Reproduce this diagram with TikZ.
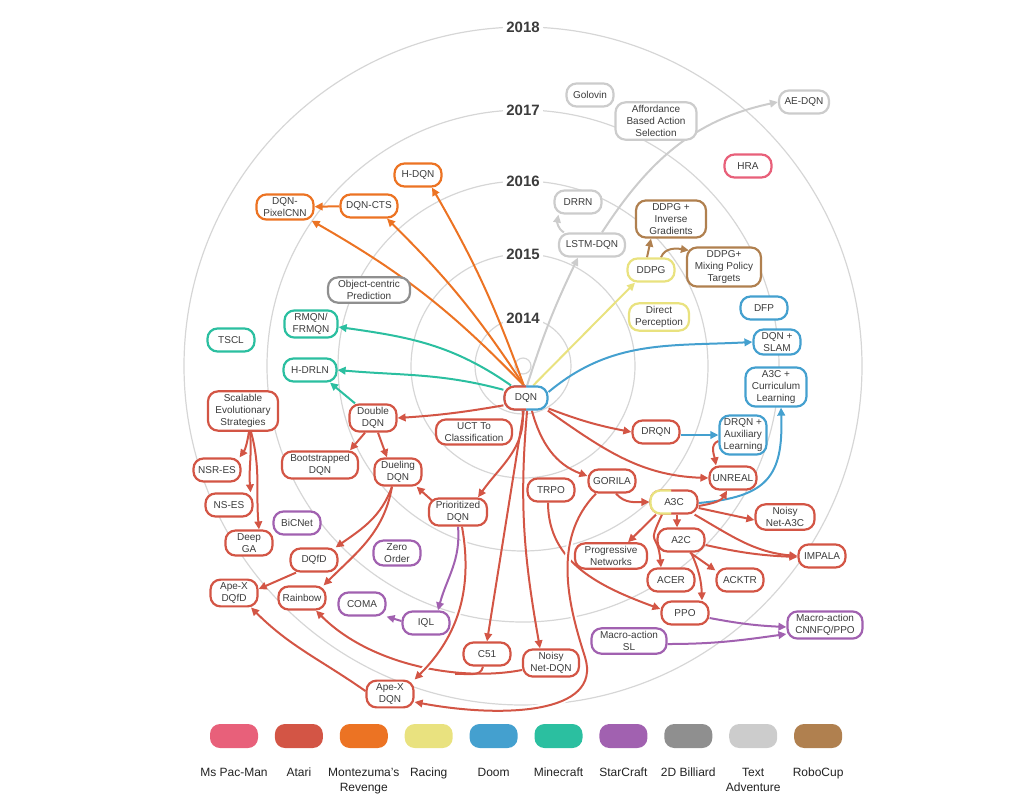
\documentclass[tikz,border=0pt]{standalone}
\usepackage{fontspec}
\setmainfont{Liberation Sans}
\usetikzlibrary{arrows.meta, calc}

\definecolor{pacman}{HTML}{E8607A}
\definecolor{atari}{HTML}{D35545}
\definecolor{monte}{HTML}{EC7323}
\definecolor{racing}{HTML}{E9E27F}
\definecolor{doom}{HTML}{44A0CF}
\definecolor{minecraft}{HTML}{2BBFA0}
\definecolor{starcraft}{HTML}{A161B0}
\definecolor{billiard}{HTML}{8F8F8F}
\definecolor{textadv}{HTML}{CCCCCC}
\definecolor{robocup}{HTML}{B0804F}
\definecolor{ringgray}{HTML}{D6D6D6}
\definecolor{ink}{HTML}{3C3C3C}
\definecolor{legendink}{HTML}{222222}

\pgfdeclarelayer{rings}
\pgfdeclarelayer{links}
\pgfsetlayers{rings,links,main}

\begin{document}
\begin{tikzpicture}[
  x=1pt, y=1pt,
  box/.style    = {draw, fill=white, line width=2.2pt, rounded corners=10pt,
                   minimum width=47pt, minimum height=23pt,
                   inner xsep=3pt, inner ysep=3pt, align=center,
                   text=ink, font=\fontsize{10}{12}\selectfont},
  link/.style   = {line width=2pt, -{Triangle[length=8pt, width=7.5pt]}},
  halo/.style   = {preaction={draw=white, line width=6pt, arrows=-}},
  ring/.style   = {draw=ringgray, line width=1.2pt},
  year/.style   = {fill=white, inner xsep=3pt, inner ysep=1pt, text=ink,
                   font=\fontsize{15}{15}\selectfont\bfseries},
  swatch/.style = {fill=#1, rounded corners=10pt, minimum width=48pt,
                   minimum height=24pt, inner sep=0pt},
  legend/.style = {anchor=north, inner sep=0pt, align=center, text=legendink,
                   font=\fontsize{12}{15}\selectfont},
]
\useasboundingbox (0,0) rectangle (1017,-807);

%── Year rings ────────────────────────────────────────────────────────────────
\coordinate (hub) at (523,-366);
\begin{pgfonlayer}{rings}
  \foreach \r in {8,48,112,185,256,339}
    \draw[ring] (hub) circle[radius=\r pt];
\end{pgfonlayer}
\node[year] (y2018) at (523,-27)  {2018};
\node[year] (y2017) at (523,-110) {2017};
\node[year] (y2016) at (523,-181) {2016};
\node[year] (y2015) at (523,-254) {2015};
\node[year] (y2014) at (523,-318) {2014};

%── Nodes ─────────────────────────────────────────────────────────────────────
% Text adventure
\node[box, draw=textadv]                    (golovin) at (590,-95)  {Golovin};
\node[box, draw=textadv, minimum width=81pt] (afford) at (656,-121) {Affordance\\Based Action\\Selection};
\node[box, draw=textadv, minimum width=50pt] (aedqn)  at (804,-102) {AE-DQN};
\node[box, draw=textadv]                    (drrn)    at (578,-202) {DRRN};
\node[box, draw=textadv, minimum width=66pt] (lstm)   at (592,-245) {LSTM-DQN};

% 2D Billiard / Ms Pac-Man
\node[box, draw=billiard, minimum width=82pt] (objc) at (369,-290) {Object-centric\\Prediction};
\node[box, draw=pacman]                      (hra)  at (748,-166) {HRA};

% RoboCup / Racing
\node[box, draw=robocup, minimum width=70pt] (ddpginv) at (671,-219) {DDPG +\\Inverse\\Gradients};
\node[box, draw=robocup, minimum width=74pt] (ddpgmix) at (724,-267) {DDPG+\\Mixing Policy\\Targets};
\node[box, draw=racing]                     (ddpg)    at (651,-270) {DDPG};
\node[box, draw=racing, minimum width=60pt]  (directp) at (659,-317) {Direct\\Perception};

% Doom
\node[box, draw=doom]                     (dfp)     at (764,-308) {DFP};
\node[box, draw=doom]                     (dqnslam) at (777,-342) {DQN +\\SLAM};
\node[box, draw=doom, minimum width=61pt] (acurr)   at (776,-387) {A3C +\\Curriculum\\Learning};
\node[box, draw=doom]                     (drqnaux) at (743,-435) {DRQN +\\Auxiliary\\Learning};

% Minecraft
\node[box, draw=minecraft, minimum width=53pt] (rmqn)  at (311,-324) {RMQN/\\FRMQN};
\node[box, draw=minecraft]                    (tscl)  at (231,-340) {TSCL};
\node[box, draw=minecraft, minimum width=53pt] (hdrln) at (310,-370) {H-DRLN};

% Montezuma's Revenge
\node[box, draw=monte]                     (hdqn)     at (418,-175) {H-DQN};
\node[box, draw=monte, minimum width=57pt] (dqncts)   at (369,-206) {DQN-CTS};
\node[box, draw=monte, minimum width=57pt] (pixelcnn) at (285,-207) {DQN-\\PixelCNN};

% Atari (DQN: red left half, blue right half)
\node[box, draw=doom, minimum width=43pt] (dqn) at (526,-398) {DQN};
\begin{scope}
  \clip ([xshift=-4pt,yshift=4pt]dqn.north west) rectangle ([yshift=-4pt]dqn.south);
  \node[box, draw=atari, minimum width=43pt] at (dqn.center) {DQN};
\end{scope}
\node[box, draw=atari]                     (ddqn)     at (373,-418) {Double\\DQN};
\node[box, draw=atari, minimum width=76pt] (uct)      at (474,-432) {UCT To\\Classification};
\node[box, draw=atari, minimum width=70pt] (ses)      at (243,-411) {Scalable\\Evolutionary\\Strategies};
\node[box, draw=atari]                     (nsres)    at (217,-470) {NSR-ES};
\node[box, draw=atari, minimum width=76pt] (boot)     at (320,-465) {Bootstrapped\\DQN};
\node[box, draw=atari]                     (dueling)  at (398,-472) {Dueling\\DQN};
\node[box, draw=atari]                     (nses)     at (229,-505) {NS-ES};
\node[box, draw=atari]                     (deepga)   at (249,-543) {Deep\\GA};
\node[box, draw=atari, minimum width=58pt] (prio)     at (458,-512) {Prioritized\\DQN};
\node[box, draw=atari]                     (dqfd)     at (314,-560) {DQfD};
\node[box, draw=atari]                     (apexdqfd) at (234,-593) {Ape-X\\DQfD};
\node[box, draw=atari]                     (rainbow)  at (302,-598) {Rainbow};
\node[box, draw=atari]                     (cfo)      at (487,-654) {C51};
\node[box, draw=atari, minimum width=56pt] (noisydqn) at (551,-663) {Noisy\\Net-DQN};
\node[box, draw=atari]                     (apexdqn)  at (390,-694) {Ape-X\\DQN};
\node[box, draw=atari]                     (trpo)     at (551,-490) {TRPO};
\node[box, draw=atari]                     (gorila)   at (612,-481) {GORILA};
\node[box, draw=atari]                     (drqn)     at (656,-432) {DRQN};
\node[box, draw=atari]                     (unreal)   at (733,-478) {UNREAL};
\node[box, draw=atari]                     (athreec)  at (674,-502) {A3C};
\begin{scope}
  \clip ([xshift=-4pt,yshift=4pt]athreec.north west) rectangle ([xshift=-3pt,yshift=-4pt]athreec.south);
  \node[box, draw=racing] at (athreec.center) {A3C};
\end{scope}
\node[box, draw=atari, minimum width=59pt] (noisya3c) at (785,-517) {Noisy\\Net-A3C};
\node[box, draw=atari]                     (atwoc)    at (681,-540) {A2C};
\node[box, draw=atari, minimum width=72pt] (prognet)  at (611,-556) {Progressive\\Networks};
\node[box, draw=atari]                     (impala)   at (822,-556) {IMPALA};
\node[box, draw=atari]                     (acer)     at (671,-580) {ACER};
\node[box, draw=atari]                     (acktr)    at (740,-580) {ACKTR};
\node[box, draw=atari]                     (ppo)      at (685,-613) {PPO};

% StarCraft
\node[box, draw=starcraft]                     (bicnet)   at (297,-523) {BiCNet};
\node[box, draw=starcraft]                     (zero)     at (397,-553) {Zero\\Order};
\node[box, draw=starcraft]                     (coma)     at (362,-604) {COMA};
\node[box, draw=starcraft]                     (iql)      at (426,-623) {IQL};
\node[box, draw=starcraft, minimum width=75pt] (macrosl)  at (629,-641) {Macro-action\\SL};
\node[box, draw=starcraft, minimum width=75pt] (macrocnn) at (825,-625) {Macro-action\\CNNFQ/PPO};

\coordinate (rbjoin) at (455,-674);   % C51 wire meets the Noisy Net wire

%── Links ─────────────────────────────────────────────────────────────────────
\begin{pgfonlayer}{links}
% Montezuma's Revenge
\draw[link, monte] (dqn.100) to[bend right=5] ([xshift=14pt]hdqn.south);
\draw[link, monte] (dqn.100) to[bend right=6] ([xshift=18pt]dqncts.south);
\draw[link, monte] (dqn.100) to[bend right=8] ([xshift=-3pt]pixelcnn.south east);
\draw[link, monte] (dqncts) -- (pixelcnn);

% Minecraft
\draw[link, minecraft] (dqn.140) to[out=145, in=-8] ([yshift=-3pt]rmqn.east);
\draw[link, minecraft] (dqn.160) to[out=165, in=-5] (hdrln.east);
\draw[link, minecraft] ([xshift=-18pt]ddqn.north) -- ([xshift=20pt]hdrln.south);

% Text adventure
\draw[link, textadv] (dqn.85) to[bend left=4] ([xshift=-14pt]lstm.south);
\draw[link, textadv] ([xshift=6pt]lstm.north west) to[out=150, in=-100] ([xshift=5pt]drrn.south west);
\draw[link, textadv] ([xshift=10pt]lstm.north) to[out=57, in=192] (aedqn.west);

% Racing / RoboCup
\draw[link, racing]  (dqn.60) -- ([xshift=-16pt]ddpg.south);
\draw[link, robocup] ([xshift=-4pt]ddpg.north) -- ([xshift=-20pt]ddpginv.south);
\draw[link, robocup] ([xshift=10pt]ddpg.north) to[out=70, in=170] ([xshift=3pt,yshift=-4pt]ddpgmix.north west);

% Doom
\draw[link, doom] (dqn.15) to[out=40, in=183] (dqnslam.west);
\draw[link, doom] ([yshift=-3pt]drqn.east) -- (drqnaux.west);
\draw[link, doom] ([yshift=-1pt]athreec.east) to[out=5, in=-88, looseness=1.4] ([xshift=5pt]acurr.south);

% Atari: from DQN
\draw[link, atari] (dqn.198) to[bend left=3] (ddqn.east);
\draw[link, atari] (dqn.-105) to[out=-85, in=55] ([xshift=20pt]prio.north);
\draw[link, atari] (dqn.-100) -- (cfo.north);
\draw[link, atari] (dqn.-85) to[out=-95, in=100] ([xshift=-11pt]noisydqn.north);
\draw[link, atari] (dqn.-65) to[out=-75, in=160] ([yshift=5pt]gorila.west);
\draw[link, atari] (dqn.-25) to[bend right=5] (drqn.west);
\draw[link, atari] (dqn.-30) to[out=-35, in=178] (unreal.west);

% Atari: value-based branch
\draw[link, atari] ([xshift=-8pt]ddqn.south) -- ([xshift=30pt]boot.north);
\draw[link, atari] ([xshift=5pt]ddqn.south) -- ([xshift=-11pt]dueling.north);
\draw[link, atari] ([xshift=5pt,yshift=-4pt]prio.north west) -- ([xshift=-6pt]dueling.south east);
\draw[link, atari] ([xshift=-6pt]dueling.south) to[out=-110, in=35] ([xshift=-3pt]dqfd.north east);
\draw[link, atari] ([xshift=-6pt]dueling.south) to[out=-100, in=45] ([xshift=-3pt]rainbow.north east);
\draw[link, atari] ([xshift=-18pt]dqfd.south) -- ([yshift=4pt]apexdqfd.east);
\draw[link, atari] ([yshift=-7pt]noisydqn.west) .. controls (460,-682) and (370,-665) .. ([xshift=14pt]rainbow.south);
\draw[line width=2pt, atari] ([xshift=-4pt]cfo.south) to[out=-100, in=5] (rbjoin);
\draw[link, atari, halo] ([xshift=4pt]prio.south) to[out=-80, in=45] (apexdqn.north east);
\draw[link, atari] ([yshift=3pt]apexdqn.west) to[out=145, in=-45] ([xshift=17pt]apexdqfd.south);

% Atari: evolution strategies
\draw[link, atari] ([xshift=6pt]ses.south) to[out=-100, in=55] ([xshift=-2pt]nsres.north east);
\draw[link, atari] ([xshift=7pt]ses.south) to[out=-85, in=95] ([xshift=-3pt]nses.north east);
\draw[link, atari] ([xshift=8pt]ses.south) to[out=-75, in=95] ([xshift=10pt]deepga.north);

% Atari: policy-based branch
\draw[link, atari] ([xshift=-3pt]trpo.south) .. controls +(0,-60) and +(-60,22) .. ([yshift=4pt]ppo.west);
\draw[link, atari, halo] ([xshift=-16pt]gorila.south) .. controls (550,-540) and (570,-610) .. (585,-657)
                         .. controls (603,-715) and (500,-718) .. ([yshift=-8pt]apexdqn.east);
\draw[link, atari] ([xshift=4pt]gorila.south) to[out=-50, in=180] (athreec.west);
\draw[link, atari] ([yshift=-4pt]athreec.east) to[out=10, in=-120] ([xshift=-6pt]unreal.south);
\draw[link, atari] ([yshift=-6pt]drqnaux.west) to[out=-160, in=100] ([xshift=-17pt]unreal.north);
\draw[link, atari] ([yshift=-6pt]athreec.east) -- ([yshift=-3pt]noisya3c.west);
\draw[link, atari] ([xshift=-4pt]athreec.south east) to[out=-30, in=175] (impala.west);
\draw[link, atari] ([yshift=-5pt]atwoc.east) to[bend right=5] ([yshift=-1pt]impala.west);
\draw[link, atari] ([xshift=3pt]athreec.south) -- ([xshift=-4pt]atwoc.north);
\draw[link, atari] ([xshift=-18pt]athreec.south) -- ([xshift=17pt]prognet.north);
\draw[link, atari] ([xshift=-12pt]athreec.south) to[out=-115, in=95, looseness=1.8] ([xshift=-10pt]acer.north);
\draw[link, atari] ([xshift=9pt]atwoc.south) -- ([yshift=-3pt]acktr.north west);
\draw[link, atari] ([xshift=10pt]atwoc.south) to[out=-65, in=92] ([xshift=17pt]ppo.north);

% StarCraft
\draw[link, starcraft] (prio.south) to[out=-85, in=75] ([xshift=12pt]iql.north);
\draw[link, starcraft] ([yshift=2pt]iql.west) -- (coma.south east);
\draw[link, starcraft] ([yshift=-5pt]ppo.east) to[bend right=4] ([yshift=-2pt]macrocnn.west);
\draw[link, starcraft] ([yshift=-3pt]macrosl.east) to[out=0, in=188] ([yshift=-9pt]macrocnn.west);
\end{pgfonlayer}

%── Legend ────────────────────────────────────────────────────────────────────
\foreach \col/\lab [count=\i from 0] in {pacman/Ms Pac-Man, atari/Atari,
    monte/{Montezuma's\\Revenge}, racing/Racing, doom/Doom, minecraft/Minecraft,
    starcraft/StarCraft, billiard/2D Billiard, textadv/{Text\\Adventure}, robocup/RoboCup}{
  \node[swatch=\col] (sw\i) at ({234+64.9*\i},-736) {};
  \node[legend]      (lg\i) at ({234+64.9*\i},-768) {\lab};
}

\end{tikzpicture}
\end{document}
